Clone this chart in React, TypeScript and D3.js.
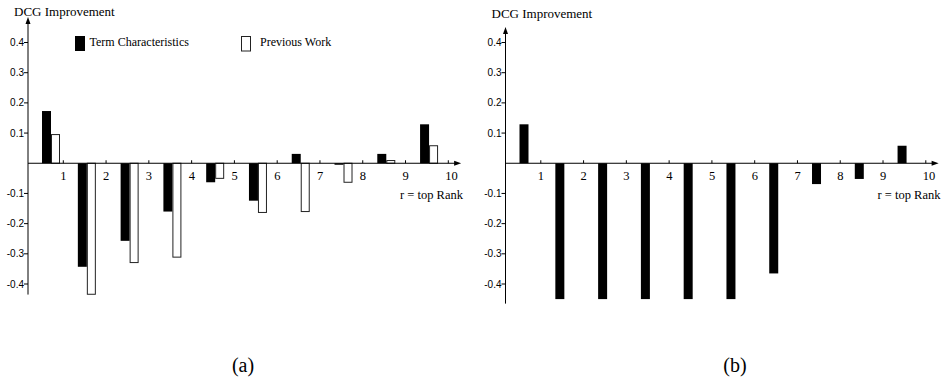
import * as d3 from 'd3'

// ranks on the x axis
const ranks = [1, 2, 3, 4, 5, 6, 7, 8, 9, 10]
const yTicks = [-0.4, -0.3, -0.2, -0.1, 0.1, 0.2, 0.3, 0.4]

// panel (a)
const termCharacteristics = [0.173, -0.343, -0.257, -0.16, -0.063, -0.124, 0.031, -0.005, 0.031, 0.129]
const previousWork = [0.095, -0.434, -0.329, -0.311, -0.05, -0.163, -0.16, -0.063, 0.009, 0.058]
// panel (b)
const panelBValues = [0.129, -0.45, -0.45, -0.45, -0.45, -0.45, -0.365, -0.069, -0.052, 0.058]

const seriesNames = ['Term Characteristics', 'Previous Work']
const yTitle = 'DCG Improvement'
const xTitle = 'r = top Rank'

const W = 942
const H = 383
const serif = '"Liberation Serif", "Times New Roman", serif'
const sans = '"Liberation Sans", Arial, sans-serif'

const x = d3.scaleLinear().domain([1, 10]).range([63.3, 448.3])
const y = d3.scaleLinear().domain([-0.4, 0.4]).range([284, 42.5])
const axisX = 28
const barW = 9

type Series = { values: number[]; fill: string }

function Panel({ dx, axisTop, axisMin, titleY, series, legend, caption, captionX }: {
    dx: number
    axisTop: number
    axisMin: number
    titleY: number
    series: Series[]
    legend: boolean
    caption: string
    captionX: number
}) {
    const y0 = y(0)
    const tipX = x(10.3)
    const barLeft = (r: number) => Math.max(x(r - 0.66), axisX + 14)

    return (
        <g transform={`translate(${dx},0)`}>
            <text x={14} y={titleY} fontFamily={serif} fontSize={13}>
                {yTitle}
            </text>

            {/* bars */}
            {series.map((s, si) =>
                s.values.map((v, i) => {
                    const left = barLeft(ranks[i]) + si * barW
                    const top = Math.min(y(v), y0)
                    const h = Math.abs(y(v) - y0)
                    return s.fill === 'black' ? (
                        <rect key={`${si}-${i}`} x={left} y={top} width={barW} height={h} fill="#000" />
                    ) : (
                        <rect
                            key={`${si}-${i}`}
                            x={left + 0.5}
                            y={top}
                            width={barW - 1}
                            height={h}
                            fill="#fff"
                            stroke="#222"
                            strokeWidth={1}
                        />
                    )
                })
            )}

            {/* y axis */}
            <line x1={axisX} x2={axisX} y1={axisTop + 4} y2={y(axisMin)} stroke="#000" strokeWidth={1} />
            <path d={`M${axisX},${axisTop} L${axisX - 2.5},${axisTop + 7} L${axisX + 2.5},${axisTop + 7} Z`} fill="#000" />
            {yTicks.map((t) => (
                <g key={t}>
                    <line x1={axisX - 4} x2={axisX} y1={y(t)} y2={y(t)} stroke="#000" strokeWidth={1} />
                    <text
                        x={axisX - 4}
                        y={y(t) + 3.5}
                        textAnchor="end"
                        fontFamily={sans}
                        fontSize={10}
                    >
                        {String(t)}
                    </text>
                </g>
            ))}

            {/* x axis */}
            <line x1={axisX} x2={tipX - 4} y1={y0} y2={y0} stroke="#000" strokeWidth={1} />
            <path d={`M${tipX},${y0} L${tipX - 7},${y0 - 2.5} L${tipX - 7},${y0 + 2.5} Z`} fill="#000" />
            {ranks.map((r) => (
                <g key={r}>
                    <line x1={x(r)} x2={x(r)} y1={y0} y2={y0 - 3} stroke="#000" strokeWidth={1} />
                    <text x={x(r) - 3} y={y0 + 16.5} fontFamily={serif} fontSize={12.5}>
                        {r}
                    </text>
                </g>
            ))}
            <text x={400} y={199} fontFamily={serif} fontSize={12.5}>
                {xTitle}
            </text>

            {legend && (
                <g>
                    <rect x={75} y={36} width={10} height={15} fill="#000" />
                    <text x={89.5} y={45.5} fontFamily={serif} fontSize={12}>
                        {seriesNames[0]}
                    </text>
                    <rect x={241.5} y={36.5} width={9} height={14.5} fill="#fff" stroke="#222" strokeWidth={1} />
                    <text x={260} y={45.5} fontFamily={serif} fontSize={12}>
                        {seriesNames[1]}
                    </text>
                </g>
            )}

            <text x={captionX} y={372} textAnchor="middle" fontFamily={serif} fontSize={20}>
                {caption}
            </text>
        </g>
    )
}

export default function App() {
    return (
        <svg
            width={W}
            height={H}
            viewBox={`0 0 ${W} ${H}`}
            style={{ position: 'absolute', left: 0, top: 0, background: '#fff' }}
        >
            <rect width={W} height={H} fill="#fff" />
            <Panel
                dx={0}
                axisTop={17}
                axisMin={-0.435}
                titleY={15.7}
                series={[
                    { values: termCharacteristics, fill: 'black' },
                    { values: previousWork, fill: 'white' },
                ]}
                legend={true}
                caption="(a)"
                captionX={243}
            />
            <Panel
                dx={477.5}
                axisTop={27}
                axisMin={-0.465}
                titleY={17.7}
                series={[{ values: panelBValues, fill: 'black' }]}
                legend={false}
                caption="(b)"
                captionX={257.5}
            />
        </svg>
    )
}
